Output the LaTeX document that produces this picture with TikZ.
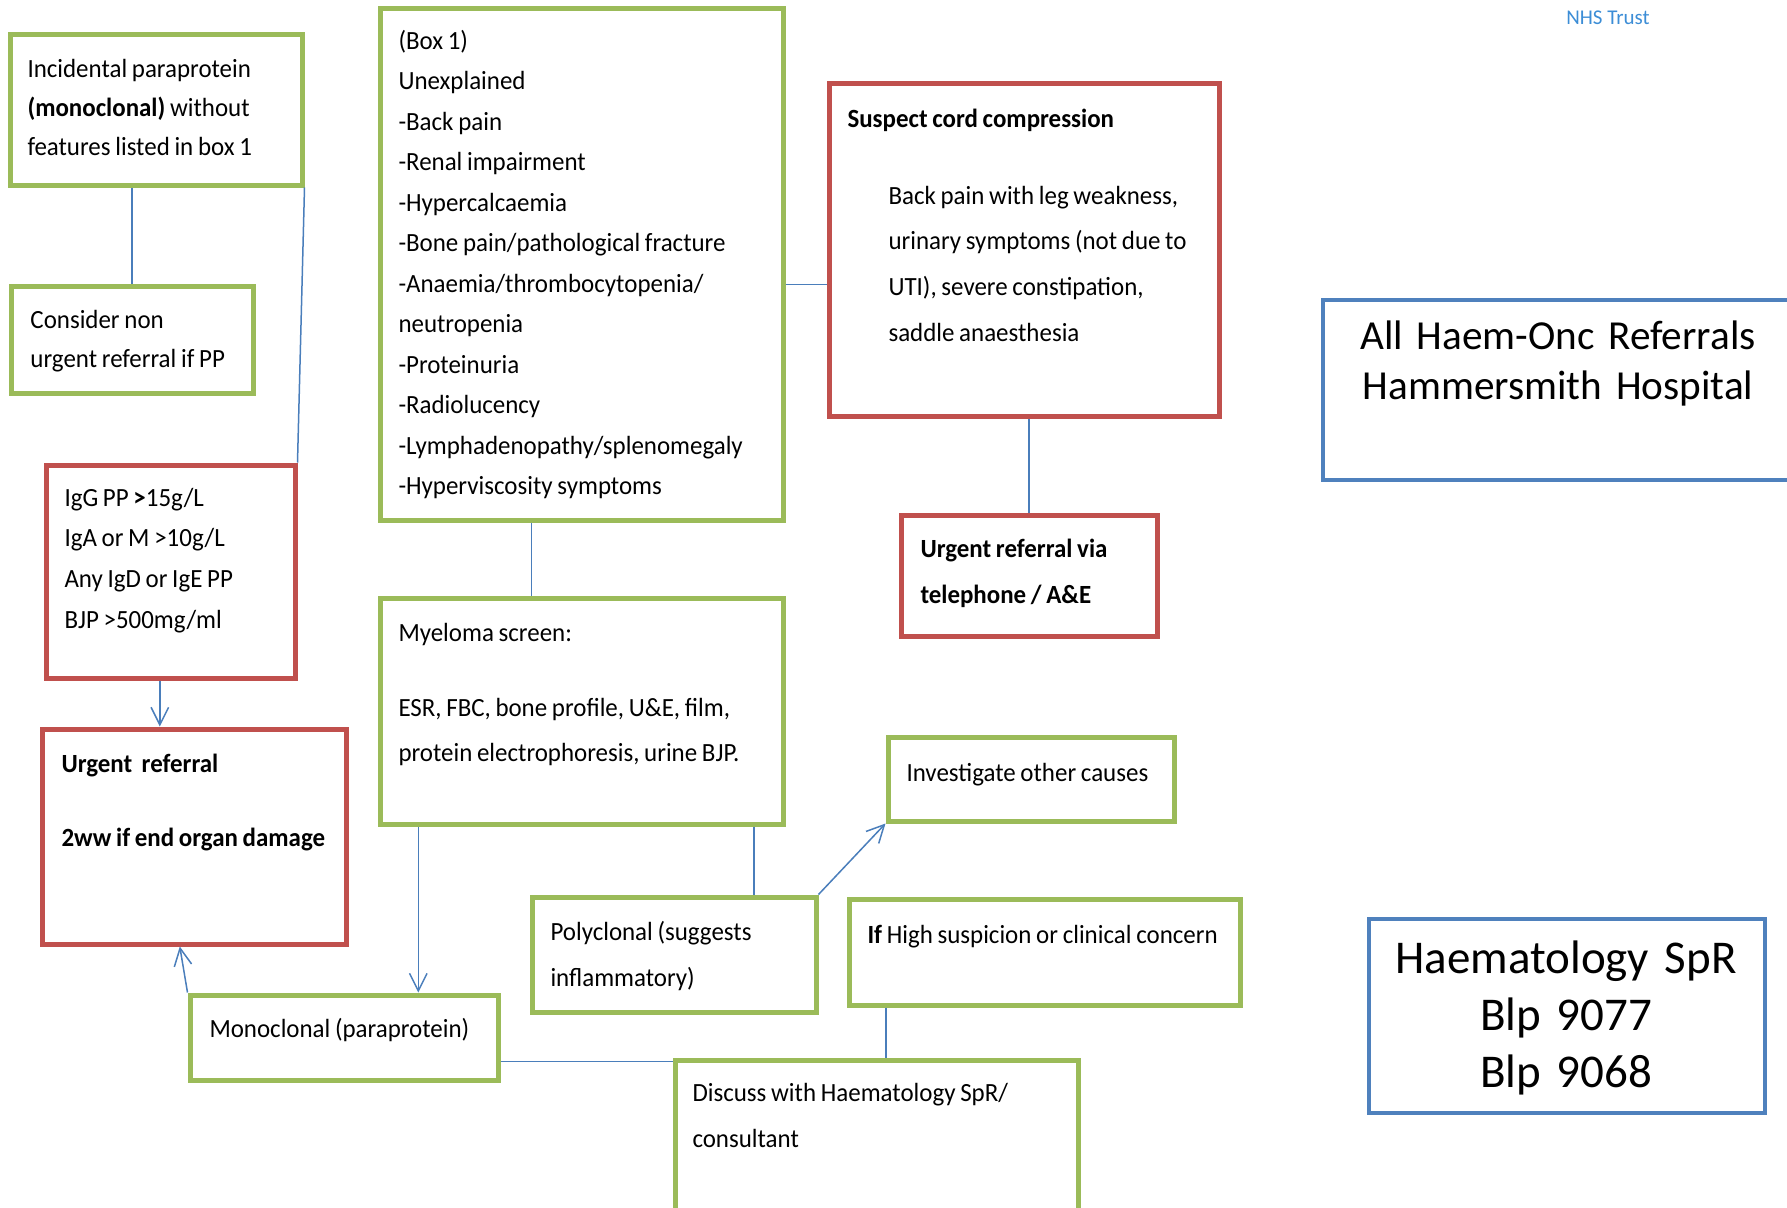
\documentclass[tikz,border=0pt]{standalone}
\usepackage{fontspec}
\setmainfont{Carlito}
\newfontfamily\boxfont[FakeStretch=0.95]{Carlito}
\newcommand{\tightspaces}{\spaceskip=0.18em\relax}
\usetikzlibrary{arrows.meta,fit,calc}
\definecolor{boxgreen}{HTML}{9BBB59}
\definecolor{boxred}{HTML}{C0504D}
\definecolor{boxblue}{HTML}{4F81BD}
\definecolor{linkblue}{HTML}{4A7EBB}
\definecolor{trustblue}{HTML}{3C8DD6}

\begin{document}
\begin{tikzpicture}[x=0.4pt,y=-0.4pt,>={Straight Barb[length=7pt,width=7pt]},
    greenbox/.style={draw=boxgreen,line width=2pt,inner sep=0pt},
    redbox/.style={draw=boxred,line width=2pt,inner sep=0pt},
    bluebox/.style={draw=boxblue,line width=1.6pt,inner sep=0pt},
    link/.style={draw=linkblue,line width=0.6pt},
    txt/.style={inner sep=0pt,anchor=base west,align=left,text width=200pt,
                font=\boxfont\fontsize{10.5}{#1}\selectfont,
                execute at begin node=\tightspaces}]
  \clip (0,0) rectangle (1787,1207);

  % boxes
  \node[greenbox,fit={(10,34) (302,185)}]    (inc)  {};
  \node[greenbox,fit={(11,286) (253,393)}]   (cons) {};
  \node[redbox,fit={(46,465) (295,678)}]     (igg)  {};
  \node[redbox,fit={(42,729) (346,944)}]     (urg)  {};
  \node[greenbox,fit={(190,995) (498,1080)}] (mono) {};
  \node[greenbox,fit={(380,8) (783,520)}]    (box1) {};
  \node[greenbox,fit={(380,598) (783,824)}]  (mye)  {};
  \node[redbox,fit={(829,83) (1219,416)}]    (cord) {};
  \node[redbox,fit={(901,515) (1157,636)}]   (via)  {};
  \node[greenbox,fit={(888,737) (1174,821)}] (inv)  {};
  \node[greenbox,fit={(532,897) (816,1012)}] (poly) {};
  \node[greenbox,fit={(849,899) (1240,1005)}] (high) {};
  \node[greenbox,fit={(675,1060) (1078,1225)}] (disc) {};
  \node[bluebox,fit={(1323,300) (1800,480)}] (ref)  {};
  \node[bluebox,fit={(1369,919) (1765,1113)}] (spr) {};

  % texts
  \node[txt=15.6pt] (incT) at (27,77)
    {Incidental paraprotein\\\textbf{(monoclonal)} without\\features listed in box 1};
  \node[txt=15.6pt] (consT) at (30,328) {Consider non\\urgent referral if PP};
  \node[txt=16.3pt] (iggT) at (64,506)
    {IgG PP \textbf{>}15g/L\\IgA or M >10g/L\\Any IgD or IgE PP\\BJP >500mg/ml};
  \node[txt=29.6pt] (urgT) at (61,772)
    {\textbf{Urgent\ \ referral}\\\textbf{2ww if end organ damage}};
  \node[txt=16.2pt] (box1T) at (398,49)
    {(Box 1)\\Unexplained\\-Back pain\\-Renal impairment\\-Hypercalcaemia\\
     -Bone pain/pathological fracture\\-Anaemia/thrombocytopenia/\\neutropenia\\
     -Proteinuria\\-Radiolucency\\-Lymphadenopathy/splenomegaly\\-Hyperviscosity symptoms};
  \node[txt=16pt] (cordH) at (847,127) {\textbf{Suspect cord compression}};
  \node[txt=18.3pt] (cordT) at (888,204)
    {Back pain with leg weakness,\\urinary symptoms (not due to\\UTI), severe constipation,\\saddle anaesthesia};
  \node[txt=18.4pt] (viaT) at (920,557) {\textbf{Urgent referral via}\\\textbf{telephone / A\&E}};
  \node[txt=18pt] (myeT) at (398,641)
    {Myeloma screen:\\[12pt]ESR, FBC, bone profile, U\&E, film,\\protein electrophoresis, urine BJP.};
  \node[txt=16pt] (invT) at (906,781) {Investigate other causes};
  \node[txt=18.4pt] (polyT) at (550,940) {Polyclonal (suggests\\inflammatory)};
  \node[txt=16pt] (highT) at (867,943) {\textbf{If} High suspicion or clinical concern};
  \node[txt=16pt] (monoT) at (209,1037) {Monoclonal (paraprotein)};
  \node[txt=18.4pt] (discT) at (692,1101) {Discuss with Haematology SpR/\\consultant};
  \node[inner sep=0pt,anchor=base,align=center,text width=240pt,
        font=\fontsize{16.5}{20}\selectfont] (refT) at (1558,349)
    {All Haem-Onc Referrals\\Hammersmith Hospital};
  \node[inner sep=0pt,anchor=base,align=center,text width=200pt,
        font=\fontsize{18.8}{22.9}\selectfont] (sprT) at (1566,973)
    {Haematology SpR\\Blp 9077\\Blp 9068};
  \node[inner sep=0pt,text=trustblue,font=\fontsize{8.4}{10}\selectfont] (trust) at (1608,18) {NHS Trust};

  % connectors
  \draw[link] (cons.north) -- (cons.north |- inc.south);
  \draw[link] (inc.south east) -- (igg.north east);
  \draw[link,->] ($(igg.south west)!.458!(igg.south east)$) coordinate (p1) -- (p1 |- urg.north);
  \draw[link] ($(box1.north east)!.54!(box1.south east)$) coordinate (p2) -- (p2 -| cord.west);
  \draw[link] (via.north) -- (via.north |- cord.south);
  \draw[link] ($(box1.south west)!.377!(box1.south east)$) coordinate (p3) -- (p3 |- mye.north);
  \draw[link,->] ($(mye.south west)!.1!(mye.south east)$) coordinate (p4) -- (p4 |- mono.north);
  \draw[link] ($(mye.south west)!.923!(mye.south east)$) coordinate (p5) -- (p5 |- poly.north);
  \draw[link,->] (poly.north east) -- (inv.south west);
  \draw[link,->] (mono.north west) -- ($(urg.south west)!.454!(urg.south east)$);
  \draw[link] ($(mono.north east)!.765!(mono.south east)$) coordinate (p6) -- (p6 -| disc.west);
  \draw[link] ($(high.south west)!.1!(high.south east)$) coordinate (p7) -- (p7 |- disc.north);
\end{tikzpicture}
\end{document}
